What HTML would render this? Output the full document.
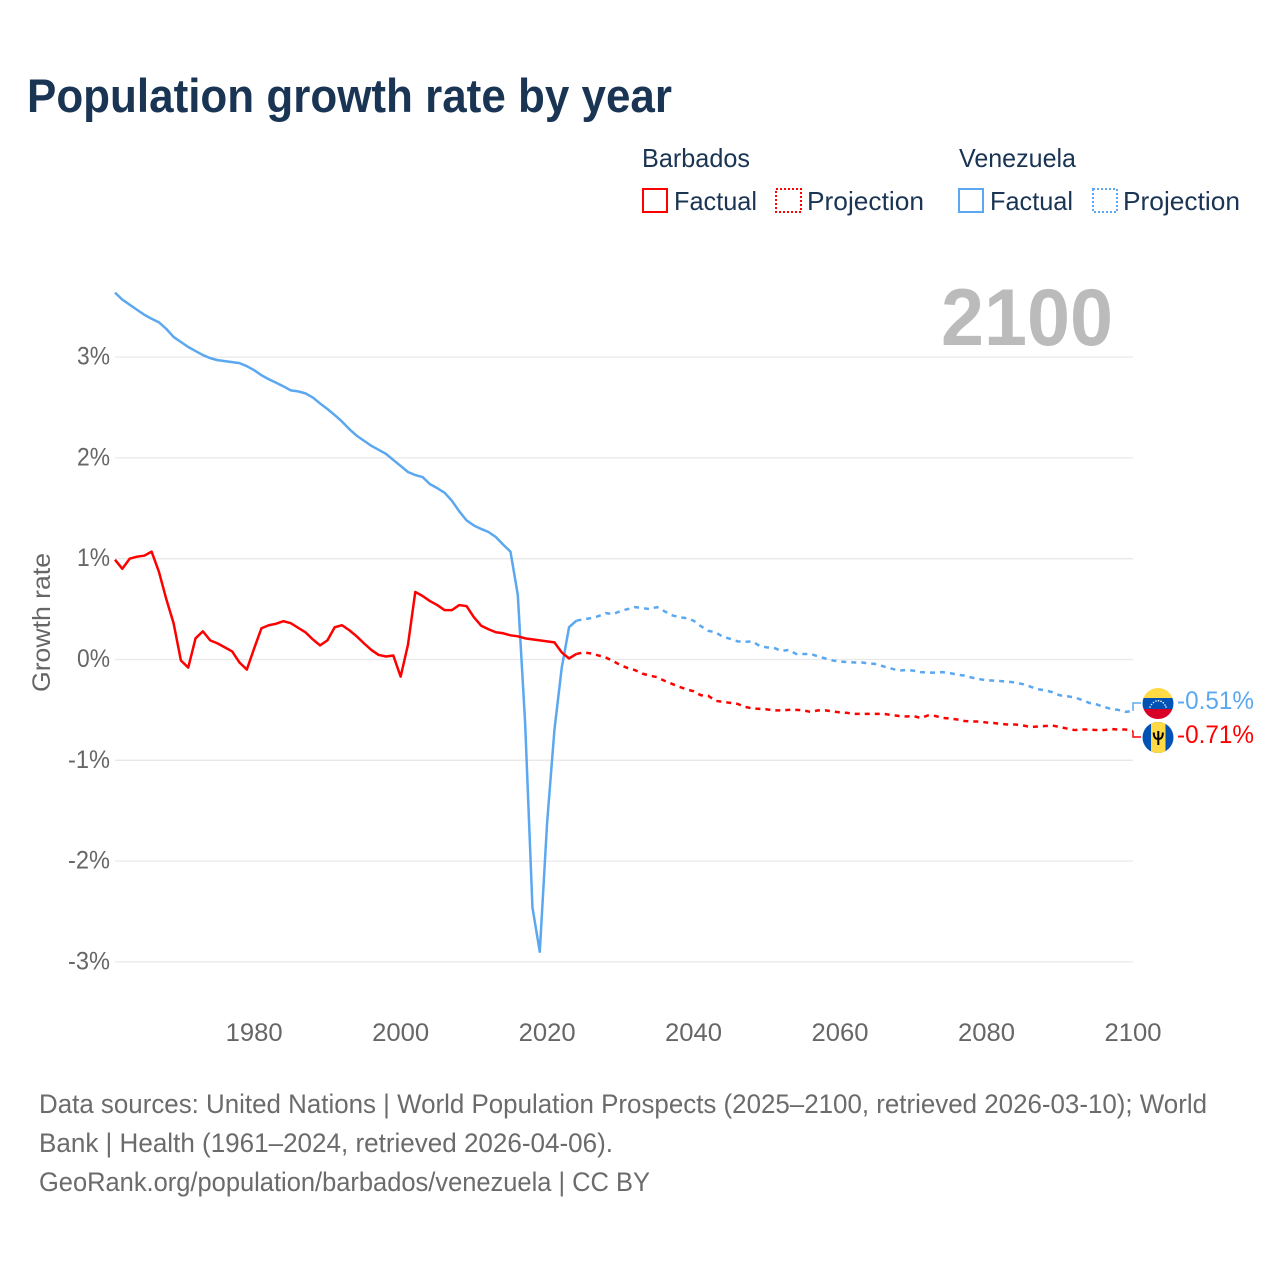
<!DOCTYPE html>
<html lang="en">
<head>
<meta charset="utf-8">
<title>Population growth rate by year</title>
<style>
html,body{margin:0;padding:0;background:#fff;}
svg{display:block;font-family:"Liberation Sans",sans-serif;}
</style>
</head>
<body>
<svg id="chart" width="1280" height="1280" viewBox="0 0 1280 1280" xmlns="http://www.w3.org/2000/svg">
  <rect width="1280" height="1280" fill="#ffffff"/>
  <text x="27" y="112" font-size="47" font-weight="bold" fill="#1a3454" textLength="645" lengthAdjust="spacingAndGlyphs">Population growth rate by year</text>

  <g font-size="26" fill="#1a3454">
    <text x="642" y="167" textLength="108" lengthAdjust="spacingAndGlyphs">Barbados</text>
    <text x="959" y="167" textLength="117" lengthAdjust="spacingAndGlyphs">Venezuela</text>
    <rect x="643" y="189" width="24" height="23" fill="none" stroke="#ff0000" stroke-width="2"/>
    <text x="674" y="210" textLength="83" lengthAdjust="spacingAndGlyphs">Factual</text>
    <rect x="776" y="189" width="25" height="23" fill="none" stroke="#ff0000" stroke-width="2" stroke-dasharray="2 2"/>
    <text x="807" y="210" textLength="117" lengthAdjust="spacingAndGlyphs">Projection</text>
    <rect x="959" y="189" width="24" height="23" fill="none" stroke="#5ba8f0" stroke-width="2"/>
    <text x="990" y="210" textLength="83" lengthAdjust="spacingAndGlyphs">Factual</text>
    <rect x="1093" y="189" width="24" height="23" fill="none" stroke="#5ba8f0" stroke-width="2" stroke-dasharray="2 2"/>
    <text x="1123" y="210" textLength="117" lengthAdjust="spacingAndGlyphs">Projection</text>
  </g>

  <g id="grid"></g>
  <g id="yticks" font-size="25" fill="#666666" text-anchor="end"></g>
  <g id="xticks" font-size="25" fill="#666666" text-anchor="middle"></g>

  <text transform="translate(50,622.5) rotate(-90)" font-size="25" fill="#666666" text-anchor="middle" textLength="139" lengthAdjust="spacingAndGlyphs">Growth rate</text>
  <text x="1113" y="345" font-size="81" font-weight="bold" fill="#bbbbbb" text-anchor="end" textLength="172" lengthAdjust="spacingAndGlyphs">2100</text>

  <g id="series" fill="none" stroke-width="2.500" stroke-linejoin="round"></g>

  <g>
    <path id="connector-v" fill="none" stroke="#5ba8f0" stroke-width="1.500"/>
    <path id="connector-b" fill="none" stroke="#ff0000" stroke-width="1.500"/>
    <defs>
      <clipPath id="clip-v"><circle cx="1158" cy="703.5" r="15.5"/></clipPath>
      <clipPath id="clip-b"><circle cx="1158" cy="737.5" r="15.5"/></clipPath>
    </defs>
    <g clip-path="url(#clip-v)">
      <rect x="1142" y="688" width="32" height="10" fill="#ffda44"/>
      <rect x="1142" y="698" width="32" height="11" fill="#0052b4"/>
      <rect x="1142" y="709" width="32" height="11" fill="#d80027"/>
      <g fill="#ffffff">
        <circle cx="1150" cy="707" r=".8"/><circle cx="1151.500" cy="704.500" r=".8"/><circle cx="1153.500" cy="702.500" r=".8"/><circle cx="1156" cy="701" r=".8"/><circle cx="1158.500" cy="700.700" r=".8"/><circle cx="1161" cy="701.300" r=".8"/><circle cx="1163.300" cy="702.800" r=".8"/><circle cx="1165" cy="705" r=".8"/><circle cx="1166" cy="707" r=".8"/>
      </g>
    </g>
    <g clip-path="url(#clip-b)">
      <rect x="1142" y="722" width="32" height="32" fill="#0052b4"/>
      <rect x="1151" y="722" width="14.500" height="32" fill="#ffda44"/>
      <path d="M1158.300 731v14M1153.800 732.500c0 5 1.500 6.500 4.500 6.500s4.500-1.500 4.500-6.500" fill="none" stroke="#000000" stroke-width="2"/>
    </g>
    <text x="1177" y="709" font-size="25" fill="#5ba8f0" textLength="77" lengthAdjust="spacingAndGlyphs">-0.51%</text>
    <text x="1177" y="743" font-size="25" fill="#ff0000" textLength="77" lengthAdjust="spacingAndGlyphs">-0.71%</text>
  </g>

  <g font-size="26.500" fill="#6b6b6b">
    <text x="39" y="1113" textLength="1168" lengthAdjust="spacingAndGlyphs">Data sources: United Nations | World Population Prospects (2025–2100, retrieved 2026-03-10); World</text>
    <text x="39" y="1152" textLength="574" lengthAdjust="spacingAndGlyphs">Bank | Health (1961–2024, retrieved 2026-04-06).</text>
    <text x="39" y="1191" textLength="611" lengthAdjust="spacingAndGlyphs">GeoRank.org/population/barbados/venezuela | CC BY</text>
  </g>
</svg>
<script>
const firstYear = 1961;
const lastFactualYear = 2024;
const yTickValues = [3, 2, 1, 0, -1, -2, -3];
const xTickYears = [1980, 2000, 2020, 2040, 2060, 2080, 2100];

// Growth rate in percent, one value per year from 1961 to 2100
const barbadosValues = [
  0.99, 0.90, 1.00, 1.02, 1.03, 1.07, 0.87, 0.60, 0.36, -0.01,
  -0.08, 0.21, 0.28, 0.19, 0.16, 0.12, 0.08, -0.03, -0.10, 0.11,
  0.31, 0.34, 0.355, 0.38, 0.36, 0.315, 0.27, 0.20, 0.14, 0.19,
  0.32, 0.34, 0.29, 0.23, 0.16, 0.095, 0.045, 0.03, 0.04, -0.17,
  0.145, 0.67, 0.63, 0.58, 0.54, 0.49, 0.49, 0.54, 0.53, 0.42,
  0.335, 0.30, 0.27, 0.26, 0.24, 0.23, 0.21, 0.20, 0.19, 0.18,
  0.17, 0.07, 0.01, 0.055, 0.07, 0.06, 0.04, 0.02, -0.015, -0.055,
  -0.085, -0.105, -0.14, -0.16, -0.175, -0.21, -0.24, -0.27, -0.295, -0.315,
  -0.355, -0.36, -0.41, -0.42, -0.43, -0.44, -0.47, -0.485, -0.49, -0.495,
  -0.505, -0.505, -0.50, -0.50, -0.505, -0.52, -0.505, -0.505, -0.515, -0.525,
  -0.53, -0.54, -0.54, -0.54, -0.54, -0.54, -0.55, -0.56, -0.565, -0.56,
  -0.58, -0.555, -0.56, -0.58, -0.585, -0.595, -0.61, -0.615, -0.615, -0.625,
  -0.63, -0.64, -0.645, -0.645, -0.655, -0.67, -0.665, -0.66, -0.655, -0.67,
  -0.685, -0.70, -0.695, -0.695, -0.70, -0.70, -0.69, -0.695, -0.695, -0.71
];
const venezuelaValues = [
  3.64, 3.57, 3.52, 3.47, 3.42, 3.38, 3.345, 3.28, 3.20, 3.15,
  3.10, 3.06, 3.02, 2.99, 2.97, 2.96, 2.95, 2.94, 2.91, 2.87,
  2.82, 2.78, 2.745, 2.71, 2.67, 2.66, 2.64, 2.60, 2.54, 2.485,
  2.425, 2.36, 2.285, 2.22, 2.17, 2.12, 2.08, 2.04, 1.98, 1.92,
  1.86, 1.83, 1.81, 1.74, 1.70, 1.655, 1.575, 1.47, 1.38, 1.33,
  1.295, 1.265, 1.215, 1.14, 1.07, 0.64, -0.63, -2.46, -2.90, -1.62,
  -0.70, -0.08, 0.32, 0.385, 0.40, 0.41, 0.43, 0.46, 0.45, 0.48,
  0.50, 0.52, 0.51, 0.50, 0.52, 0.48, 0.44, 0.42, 0.41, 0.385,
  0.33, 0.285, 0.27, 0.225, 0.205, 0.18, 0.175, 0.18, 0.135, 0.12,
  0.115, 0.085, 0.095, 0.055, 0.055, 0.055, 0.03, 0.01, -0.01, -0.02,
  -0.025, -0.03, -0.03, -0.04, -0.045, -0.07, -0.09, -0.11, -0.105, -0.11,
  -0.125, -0.13, -0.13, -0.125, -0.135, -0.15, -0.16, -0.18, -0.195, -0.205,
  -0.21, -0.215, -0.22, -0.23, -0.245, -0.27, -0.295, -0.305, -0.325, -0.355,
  -0.365, -0.375, -0.40, -0.43, -0.445, -0.47, -0.49, -0.50, -0.52, -0.51
];

const SVG_NS = 'http://www.w3.org/2000/svg';
function xScale(year) { return 115 + (year - firstYear) * (1133 - 115) / (2100 - firstYear); }
function yScale(value) { return 659.5 - value * 100.8; }

const gridGroup = document.getElementById('grid');
const yTickGroup = document.getElementById('yticks');
yTickValues.forEach(function (tick) {
  const line = document.createElementNS(SVG_NS, 'line');
  
  
  line.setAttribute('x1', 115);
  line.setAttribute('x2', 1133);
  line.setAttribute('y1', yScale(tick));
  line.setAttribute('y2', yScale(tick));
  line.setAttribute('stroke', '#e8e8e8');
  line.setAttribute('stroke-width', '1.3');
  gridGroup.appendChild(line);

  const label = document.createElementNS(SVG_NS, 'text');
  
  
  label.setAttribute('x', 110);
  label.setAttribute('y', yScale(tick) + 7.5);
  label.setAttribute('textLength', tick < 0 ? 42 : 33);
  label.setAttribute('lengthAdjust', 'spacingAndGlyphs');
  label.textContent = tick + '%';
  yTickGroup.appendChild(label);
});

const xTickGroup = document.getElementById('xticks');
xTickYears.forEach(function (year) {
  const label = document.createElementNS(SVG_NS, 'text');
  
  
  label.setAttribute('x', xScale(year));
  label.setAttribute('y', 1041);
  label.setAttribute('textLength', 57);
  label.setAttribute('lengthAdjust', 'spacingAndGlyphs');
  label.textContent = String(year);
  xTickGroup.appendChild(label);
});

function buildPath(values, fromYear, toYear) {
  const parts = [];
  for (let year = fromYear; year <= toYear; year++) {
    const value = values[year - firstYear];
    parts.push((parts.length ? 'L' : 'M') + xScale(year).toFixed(2) + ' ' + yScale(value).toFixed(2));
  }
  return parts.join('');
}

const seriesGroup = document.getElementById('series');
const lastYear = firstYear + barbadosValues.length - 1;

const vFactual = document.createElementNS(SVG_NS, 'path');


vFactual.setAttribute('d', buildPath(venezuelaValues, firstYear, lastFactualYear));
vFactual.setAttribute('stroke', '#5ba8f0');
seriesGroup.appendChild(vFactual);

const vProjection = document.createElementNS(SVG_NS, 'path');


vProjection.setAttribute('d', buildPath(venezuelaValues, lastFactualYear, lastYear));
vProjection.setAttribute('stroke', '#5ba8f0');
vProjection.setAttribute('stroke-dasharray', '5 5');
seriesGroup.appendChild(vProjection);

const bFactual = document.createElementNS(SVG_NS, 'path');


bFactual.setAttribute('d', buildPath(barbadosValues, firstYear, lastFactualYear));
bFactual.setAttribute('stroke', '#ff0000');
seriesGroup.appendChild(bFactual);

const bProjection = document.createElementNS(SVG_NS, 'path');


bProjection.setAttribute('d', buildPath(barbadosValues, lastFactualYear, lastYear));
bProjection.setAttribute('stroke', '#ff0000');
bProjection.setAttribute('stroke-dasharray', '5 5');
seriesGroup.appendChild(bProjection);

const endX = xScale(lastYear);
document.getElementById('connector-v').setAttribute('d', 'M' + endX + ' ' + yScale(venezuelaValues[venezuelaValues.length - 1]) + 'V703H1141');
document.getElementById('connector-b').setAttribute('d', 'M' + endX + ' ' + yScale(barbadosValues[barbadosValues.length - 1]) + 'V737H1141');
</script>
</body>
</html>
